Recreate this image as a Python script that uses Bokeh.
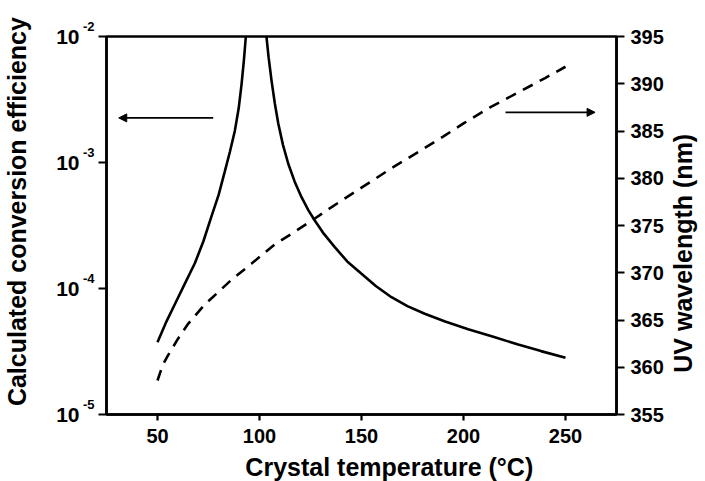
import math
from bokeh.plotting import figure
from bokeh.layouts import row
from bokeh.models import (Range1d, LinearAxis, LogAxis, LinearScale, FixedTicker,
                          CustomJSTickFormatter, Arrow, NormalHead)
from bokeh.embed import file_html
from bokeh.resources import INLINE

# ---- data ----
temp_left = [50.0, 54.0, 58.5, 63.0, 68.3, 72.5, 76.5, 80.0, 83.0, 85.5,
             87.9, 89.8, 91.2, 92.4, 93.3, 94.6]
log_eff_left = [-4.426, -4.275, -4.125, -3.975, -3.80, -3.625, -3.425, -3.255,
                -3.07, -2.915, -2.75, -2.57, -2.38, -2.18, -2.0, -1.7]

temp_right = [102.6, 103.4, 104.5, 105.9, 107.5, 109.2, 111.5, 114.1, 117.2,
              120.6, 124.0, 127.1, 131.5, 136.9, 143.0, 150.0, 157.0, 164.7,
              172.5, 181.0, 191.0, 202.3, 215.0, 226.8, 238.0, 250.0]
log_eff_right = [-1.7, -2.0, -2.17, -2.35, -2.53, -2.69, -2.86, -3.01, -3.15,
                 -3.275, -3.38, -3.46, -3.565, -3.672, -3.785, -3.883, -3.98,
                 -4.069, -4.14, -4.20, -4.262, -4.323, -4.385, -4.445, -4.497,
                 -4.55]

temp_wl = [50, 52.5, 55, 60, 65, 73, 80, 86, 96, 107.5, 117, 125.5, 135, 150,
           165, 178, 190, 200, 213, 227, 240, 250]
wavelength = [358.6, 360.2, 361.2, 363.0, 364.6, 366.6, 368.0, 369.2, 370.95,
              373.0, 374.3, 375.5, 376.9, 379.0, 381.1, 382.8, 384.4, 385.8,
              387.5, 389.1, 390.6, 391.8]

x_ticks = [50, 100, 150, 200, 250]
y_ticks = [1e-5, 1e-4, 1e-3, 1e-2]
y_tick_base = "10"
y_tick_exponents = ["-5", "-4", "-3", "-2"]
wl_ticks = [355, 360, 365, 370, 375, 380, 385, 390, 395]

NBSP = "\u00a0"
x_title = NBSP * 9 + "Crystal  temperature (\u00b0C)"
y_title = NBSP * 4 + "Calculated conversion efficiency"
y2_title = "UV wavelength (nm)" + NBSP * 8

# arrows (annotation positions in data units)
left_arrow = dict(x_start=77.3, x_end=31.0, y=2.26e-3)
right_arrow = dict(x_start=220.6, x_end=264.5, y=2.5e-3)

FONT = "Liberation Sans"
X_MIN, X_MAX = 25, 275

eff_left = [10 ** v for v in log_eff_left]
eff_right = [10 ** v for v in log_eff_right]

p = figure(width=665, height=481, output_backend="svg", toolbar_location=None,
           y_axis_type="log", x_range=Range1d(X_MIN, X_MAX), y_range=Range1d(1e-5, 1e-2),
           frame_width=510, frame_height=378,
           min_border_left=105, min_border_right=50, min_border_top=36,
           min_border_bottom=67)
p.extra_y_ranges = {"wl": Range1d(355, 395)}
p.extra_y_scales = {"wl": LinearScale()}

p.grid.visible = False
p.outline_line_color = "black"
p.outline_line_width = 2.5
p.background_fill_color = "white"
p.border_fill_color = "white"

p.line(temp_left, eff_left, line_color="black", line_width=2.6)
p.line(temp_right, eff_right, line_color="black", line_width=2.6)
p.line(temp_wl, wavelength, line_color="black", line_width=2.6,
       line_dash="11 8", y_range_name="wl")

for a in (left_arrow, right_arrow):
    p.add_layout(Arrow(end=NormalHead(size=8, fill_color="black", line_color="black"),
                       x_start=a["x_start"], y_start=a["y"], x_end=a["x_end"], y_end=a["y"],
                       line_color="black", line_width=1.6))


def style_text(ax, size):
    ax.major_label_text_font = FONT
    ax.major_label_text_font_style = "bold"
    ax.major_label_text_font_size = size
    ax.major_label_text_color = "black"
    ax.axis_label_text_font = FONT
    ax.axis_label_text_font_style = "bold"
    ax.axis_label_text_color = "black"
    ax.axis_label_text_font_size = "25px"


def style_rule(ax, tick_out):
    ax.axis_line_width = 2.5
    ax.axis_line_color = "black"
    ax.major_tick_line_width = 2.2
    ax.major_tick_line_color = "black"
    ax.major_tick_in = 0
    ax.major_tick_out = tick_out
    ax.minor_tick_line_color = None


def hide_rule(ax):
    ax.axis_line_color = None
    ax.major_tick_line_color = None
    ax.minor_tick_line_color = None
    ax.major_tick_in = 0
    ax.major_tick_out = 0
    ax.minor_tick_in = 0
    ax.minor_tick_out = 0


# ---- bottom axis ----
xa = p.xaxis[0]
xa.ticker = FixedTicker(ticks=x_ticks)
style_rule(xa, 6)
style_text(xa, "20px")
xa.major_label_standoff = 8
xa.axis_label = x_title
xa.axis_label_standoff = 7

# ---- left: rule/ticks, exponents, mantissa "10" + title ----
ya = p.yaxis[0]
ya.ticker = FixedTicker(ticks=y_ticks)
ya.formatter = CustomJSTickFormatter(code="return '';")
style_rule(ya, 8)
style_text(ya, "20px")
ya.major_label_standoff = 0

exp_axis = LogAxis(ticker=FixedTicker(ticks=y_ticks),
                   formatter=CustomJSTickFormatter(
                       args=dict(labels=y_tick_exponents),
                       code="return labels[Math.round(Math.log10(tick)) + 5] + '\\n\\u00a0';"))
hide_rule(exp_axis)
style_text(exp_axis, "13px")
exp_axis.major_label_text_line_height = 1.3
exp_axis.major_label_standoff = 4
p.add_layout(exp_axis, "left")

base_axis = LogAxis(ticker=FixedTicker(ticks=y_ticks),
                    formatter=CustomJSTickFormatter(args=dict(base=y_tick_base),
                                                    code="return base;"),
                    axis_label=y_title)
hide_rule(base_axis)
style_text(base_axis, "21px")
base_axis.major_label_standoff = 0
base_axis.axis_label_standoff = 22
p.add_layout(base_axis, "left")

# ---- right: wavelength axis ----
ra = LinearAxis(y_range_name="wl", ticker=FixedTicker(ticks=wl_ticks))
style_rule(ra, 8)
style_text(ra, "20px")
ra.major_label_standoff = 6
p.add_layout(ra, "right")

# ---- narrow strip carrying the right-hand title (reads bottom to top) ----
rf = figure(width=40, height=481, output_backend="svg", toolbar_location=None,
            x_axis_location=None, min_border_left=0, min_border_right=10,
            min_border_top=36, min_border_bottom=67, frame_height=378,
            x_range=Range1d(0, 1), y_range=Range1d(355, 395))
rf.grid.visible = False
rf.outline_line_color = None
rf.background_fill_color = "white"
rf.border_fill_color = "white"
t_ax = rf.yaxis[0]
t_ax.ticker = FixedTicker(ticks=[])
hide_rule(t_ax)
style_text(t_ax, "20px")
t_ax.axis_label = y2_title
t_ax.axis_label_standoff = 0

layout = row(p, rf, spacing=0)
open("out.html", "w").write(file_html(layout, INLINE))
